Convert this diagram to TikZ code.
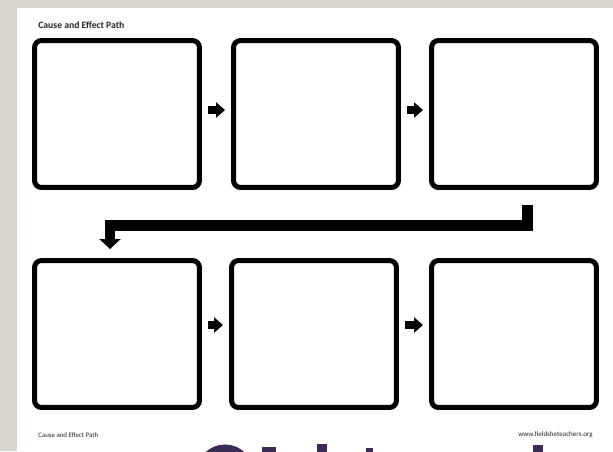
\documentclass[tikz,border=0pt]{standalone}
\usepackage{fontspec}
\setmainfont{Carlito}
\usetikzlibrary{arrows.meta,positioning}
\definecolor{paper}{HTML}{D8D5CE}
\definecolor{slidepurple}{HTML}{3B2C57}

\begin{document}
\begin{tikzpicture}[x=0.02cm, y=-0.02cm,
  card/.style={draw=black, line width=0.1cm, rounded corners=0.14cm, fill=white,
               minimum width=3.3cm, minimum height=2.94cm, inner sep=0pt},
  nextarrow/.style={draw=black, line width=0.16cm, -{Triangle[length=0.18cm, width=0.3cm]},
                    shorten <=0.12cm, shorten >=0.12cm},
  turnline/.style={draw=black, line width=0.22cm, line join=miter,
                   -{Triangle[length=0.2cm, width=0.42cm]}},
  sheettext/.style={inner sep=0pt, text=black!85}
]
\useasboundingbox (0,0) rectangle (613,451);
\fill[paper] (0,0) rectangle (613,451);
\fill[white] (17,8) rectangle (613,451);

\node[sheettext, anchor=west, font=\bfseries\fontsize{5.5}{6}\selectfont] (title) at (38,25) {Cause and Effect Path};

\node[card] (c1) at (117,114) {};
\node[card] (c2) at (316,114) {};
\node[card] (c3) at (514,114) {};
\node[card] (c4) at (117,334) {};
\node[card] (c5) at (314,334) {};
\node[card] (c6) at (514,334) {};

\draw[nextarrow] ([yshift=0.08cm]c1.east) -- ([yshift=0.08cm]c2.west);
\draw[nextarrow] ([yshift=0.08cm]c2.east) -- ([yshift=0.08cm]c3.west);
\draw[nextarrow] ([yshift=0.18cm]c4.east) -- ([yshift=0.18cm]c5.west);
\draw[nextarrow] ([yshift=0.18cm]c5.east) -- ([yshift=0.18cm]c6.west);

\coordinate (stubtop) at (527.5,205);
\coordinate (droptip) at (110,249);
\draw[turnline] (stubtop) -- ++(0,20.5) -| (droptip);

\node[sheettext, anchor=west, font=\fontsize{3.9}{4}\selectfont] (footleft) at (38,435) {Cause and Effect Path};
\node[sheettext, anchor=east, font=\fontsize{4}{5}\selectfont] (footright) at (593,435) {www.fieldsheteachers.org};

\begin{scope}
\clip (0,0) rectangle (613,451);
\draw[slidepurple, line width=0.18cm] (225,473) circle [radius=0.48cm];
\fill[slidepurple] (262,447) rectangle (276,460);
\fill[slidepurple] (317,444) rectangle (327,460);
\fill[slidepurple] (366,448) rectangle (373,460);
\fill[slidepurple] (533,445) rectangle (543,460);
\end{scope}
\end{tikzpicture}
\end{document}
